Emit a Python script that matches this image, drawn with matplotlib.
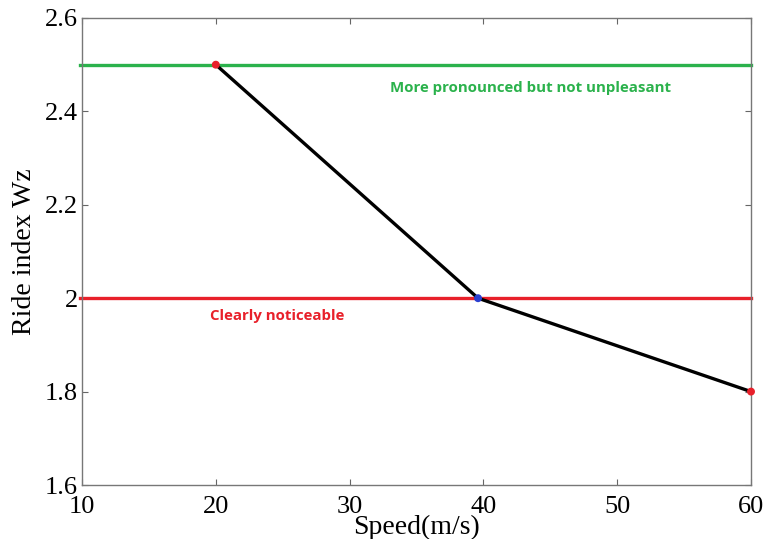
import matplotlib
matplotlib.use('Agg')
import matplotlib.pyplot as plt

# data
speed = [20, 39.6, 60]
ride_index = [2.5, 2.0, 1.8]
marker_colors = ['#e8202a', '#2a3fd0', '#e8202a']

limit_levels = [2.5, 2.0]
limit_colors = ['#2bb24c', '#e8202a']
limit_texts = ['More pronounced but not unpleasant', 'Clearly noticeable']
text_pos = [(33.0, 2.45), (19.6, 1.962)]

xticks = [10, 20, 30, 40, 50, 60]
yticks = [1.6, 1.8, 2.0, 2.2, 2.4, 2.6]
yticklabels = ['1.6', '1.8', '2', '2.2', '2.4', '2.6']

fig = plt.figure(figsize=(7.66, 5.39), dpi=100)
ax = fig.add_axes([82/766, 1-485/539, (751-82)/766, (485-18)/539])

for lev, col in zip(limit_levels, limit_colors):
	ax.plot([9.85, 60], [lev, lev], color=col, lw=2.4, clip_on=False, zorder=2)

ax.plot(speed, ride_index, color='black', lw=2.4, zorder=3)
ax.scatter(speed, ride_index, c=marker_colors, s=22, zorder=4, clip_on=False)

for t, (tx, ty), col in zip(limit_texts, text_pos, limit_colors):
	ax.text(tx, ty, t, color=col, fontsize=10.8, fontweight='bold',
		family='Open Sans', va='center', ha='left')

ax.set_xlim(10, 60)
ax.set_ylim(1.6, 2.6)
ax.set_xticks(xticks)
ax.set_yticks(yticks)
ax.set_yticklabels(yticklabels)
ax.tick_params(direction='in', top=True, right=True, length=4, width=0.8,
	colors='#666666', labelcolor='black', labelsize=19)
ax.tick_params(axis='x', pad=8)
ax.tick_params(axis='y', pad=3)
for lab in ax.get_xticklabels() + ax.get_yticklabels():
	lab.set_family('Liberation Serif')
for sp in ax.spines.values():
	sp.set_color('#777777')
	sp.set_linewidth(1.0)

ax.set_xlabel('Speed(m/s)', family='Liberation Serif', fontsize=20, labelpad=-2)
ax.set_ylabel('Ride index Wz', family='Liberation Serif', fontsize=20)
ax.yaxis.set_label_coords(-45/669, 0.5)

fig.savefig('out.png', dpi=100)
